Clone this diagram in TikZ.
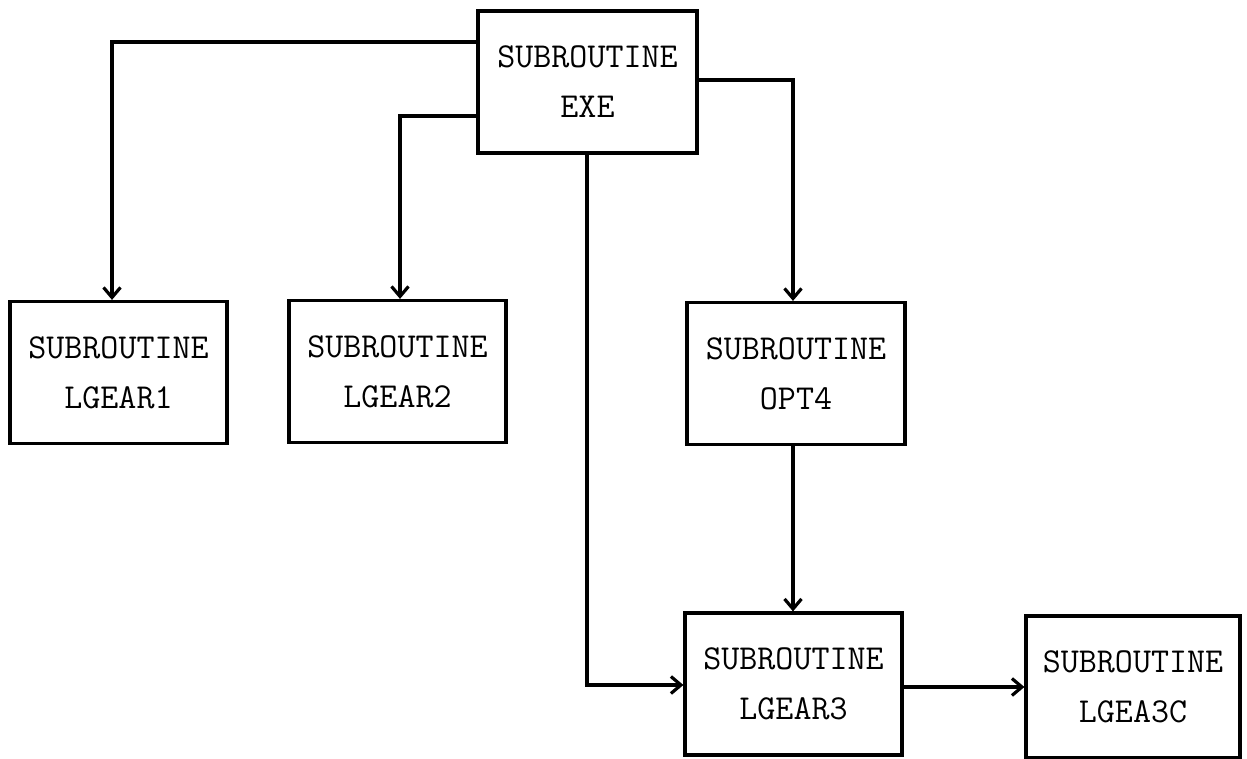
\documentclass[tikz,border=0pt]{standalone}
\usepackage{fontspec}
\usetikzlibrary{arrows.meta}
\begin{document}
\begin{tikzpicture}[x=1pt,y=-1pt,
  subbox/.style={draw,line width=3.2pt,minimum height=142pt,inner sep=0pt,
    align=center,font=\ttfamily\fontsize{35}{50}\selectfont},
  link/.style={line width=3.2pt,-{Straight Barb[length=10pt,width=17pt,line width=3.2pt]}}]
\useasboundingbox (0,0) rectangle (1247,759);
\node[subbox,minimum width=219pt] (exe) at (587.5,82) {SUBROUTINE\\EXE};
\node[subbox,minimum width=217pt] (lg1) at (118.5,372.5) {SUBROUTINE\\LGEAR1};
\node[subbox,minimum width=217pt] (lg2) at (397.5,371.5) {SUBROUTINE\\LGEAR2};
\node[subbox,minimum width=218pt] (opt) at (796,373.5) {SUBROUTINE\\OPT4};
\node[subbox,minimum width=217pt] (lg3) at (793.5,684) {SUBROUTINE\\LGEAR3};
\node[subbox,minimum width=214pt] (lgc) at (1133,687) {SUBROUTINE\\LGEA3C};
\coordinate (c1) at (112,42);
\coordinate (c2) at (400,116);
\coordinate (c3) at (793,80);
\coordinate (c4) at (587,685);
\draw[link] (exe.west |- c1) -- (c1) -- (c1 |- lg1.north);
\draw[link] (exe.west |- c2) -- (c2) -- (c2 |- lg2.north);
\draw[link] (exe.east |- c3) -- (c3) -- (c3 |- opt.north);
\draw[link] (c4 |- exe.south) -- (c4) -- (lg3.west |- c4);
\draw[link] (c3 |- opt.south) -- (c3 |- lg3.north);
\draw[link] (lg3.east |- 0,687) -- (lgc.west |- 0,687);
\end{tikzpicture}
\end{document}
